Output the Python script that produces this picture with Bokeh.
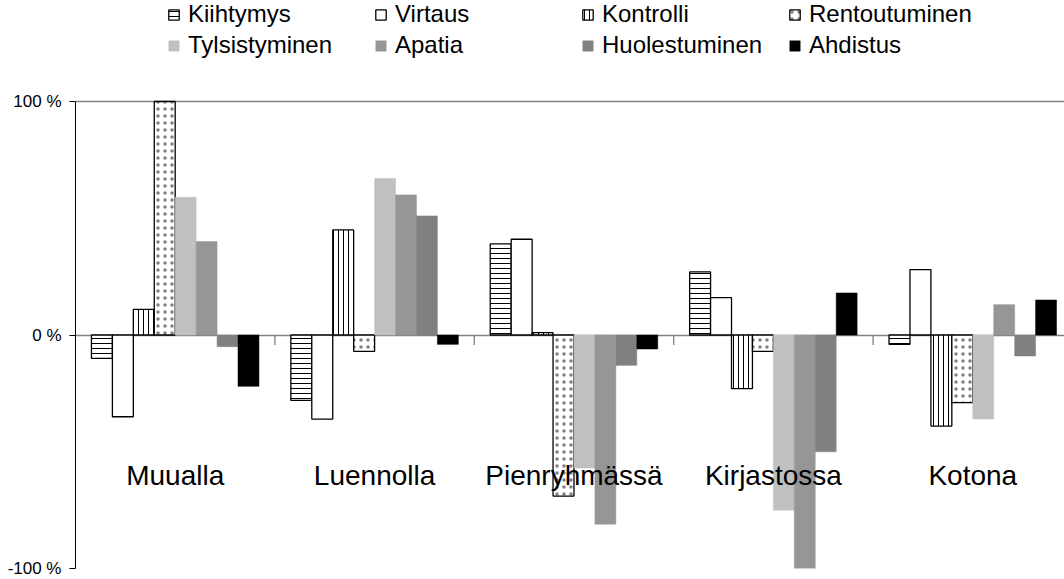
from bokeh.plotting import figure
from bokeh.models import Range1d, FixedTicker, Legend, LegendItem
from bokeh.core.properties import value
from bokeh.embed import file_html
from bokeh.resources import INLINE

categories = ["Muualla", "Luennolla", "Pienryhmässä", "Kirjastossa", "Kotona"]
series = ["Kiihtymys", "Virtaus", "Kontrolli", "Rentoutuminen",
          "Tylsistyminen", "Apatia", "Huolestuminen", "Ahdistus"]

kiihtymys = [-10, -28, 39, 27, -4]
virtaus = [-35, -36, 41, 16, 28]
kontrolli = [11, 45, 1, -23, -39]
rentoutuminen = [100, -7, -69, -7, -29]
tylsistyminen = [59, 67, -57, -75, -36]
apatia = [40, 60, -81, -100, 13]
huolestuminen = [-5, 51, -13, -50, -9]
ahdistus = [-22, -4, -6, 18, 15]

values = [kiihtymys, virtaus, kontrolli, rentoutuminen,
          tylsistyminen, apatia, huolestuminen, ahdistus]

y_ticks = [-1, 0, 1]
y_tick_labels = {-1: "-100 %", 0: "0 %", 1: "100 %"}

FONT = "Liberation Sans"

styles = [
    dict(fill_color="white", line_color="black", line_width=1.3,
         hatch_pattern="horizontal_line", hatch_scale=5, hatch_weight=1, hatch_color="black"),
    dict(fill_color="white", line_color="black", line_width=1.3),
    dict(fill_color="white", line_color="black", line_width=1.3,
         hatch_pattern="vertical_line", hatch_scale=5, hatch_weight=1, hatch_color="black"),
    dict(fill_color="white", line_color="black", line_width=1.3,
         hatch_pattern="dot", hatch_scale=7, hatch_weight=0.3, hatch_color="#808080"),
    dict(fill_color="#C0C0C0", line_color="#C0C0C0", line_width=0.5),
    dict(fill_color="#969696", line_color="#969696", line_width=0.5),
    dict(fill_color="#808080", line_color="#808080", line_width=0.5),
    dict(fill_color="#000000", line_color="#000000", line_width=0.5),
]

W, H = 1064, 579
FRAME_TOP, FRAME_BOTTOM = 101, 568          # pixel rows of +100 % and -100 %
px_per_unit = (FRAME_BOTTOM - FRAME_TOP) / 2.0
y_top = 1 + FRAME_TOP / px_per_unit          # extend range so legend fits in frame

p = figure(width=W, height=H, output_backend="svg", toolbar_location=None,
           x_range=Range1d(0, 4.96), y_range=Range1d(-1, y_top),
           min_border_left=75, min_border_top=0, min_border_bottom=H - FRAME_BOTTOM,
           min_border_right=0)
p.outline_line_color = None
p.background_fill_color = "white"
p.border_fill_color = "white"

# axes
p.xaxis.visible = False
p.xgrid.visible = False
p.yaxis.bounds = (-1, 1)
p.yaxis.ticker = FixedTicker(ticks=y_ticks)
p.yaxis.major_label_overrides = y_tick_labels
p.yaxis.major_label_text_font = FONT
p.yaxis.major_label_text_font_size = "17px"
p.yaxis.major_label_text_color = "black"
p.yaxis.axis_line_color = "black"
p.yaxis.major_tick_line_color = "black"
p.yaxis.major_tick_out = 6
p.yaxis.major_tick_in = 0
p.yaxis.minor_tick_line_color = None
p.yaxis.major_label_standoff = 8
p.ygrid.ticker = FixedTicker(ticks=y_ticks)
p.ygrid.grid_line_color = "#808080"
p.ygrid.grid_line_width = 1.3

# category boundary ticks on zero line
bounds = list(range(1, len(categories)))
p.segment(x0=bounds, y0=[0] * len(bounds), x1=bounds, y1=[-0.043] * len(bounds),
          line_color="#808080", line_width=1.3)

bar_w = 0.105
renderers = []
for i, (name, vals) in enumerate(zip(series, values)):
    xs = [k + 0.5 + (i - 3.5) * bar_w for k in range(len(categories))]
    tops = [v / 100 for v in vals]
    r = p.vbar(x=xs, top=tops, bottom=0, width=bar_w, **styles[i])
    renderers.append(r)

# category labels
p.text(x=[k + 0.5 for k in range(len(categories))], y=[-0.6] * len(categories),
       text=categories, text_align="center", text_baseline="alphabetic",
       text_font=value(FONT), text_font_size="28px", text_color="black")

# legends: 4 columns x 2 rows
col_x = [92, 299, 506, 713]
for c in range(4):
    items = [LegendItem(label=series[c], renderers=[renderers[c]]),
             LegendItem(label=series[c + 4], renderers=[renderers[c + 4]])]
    lg = Legend(items=items, location=(col_x[c], 509), orientation="vertical",
                padding=0, margin=0, spacing=3, glyph_width=13, glyph_height=13,
                label_standoff=8, label_height=28,
                label_text_font=FONT, label_text_font_size="24px",
                label_text_color="black", border_line_color=None,
                background_fill_alpha=0)
    p.add_layout(lg)

open("out.html", "w").write(file_html(p, INLINE))
